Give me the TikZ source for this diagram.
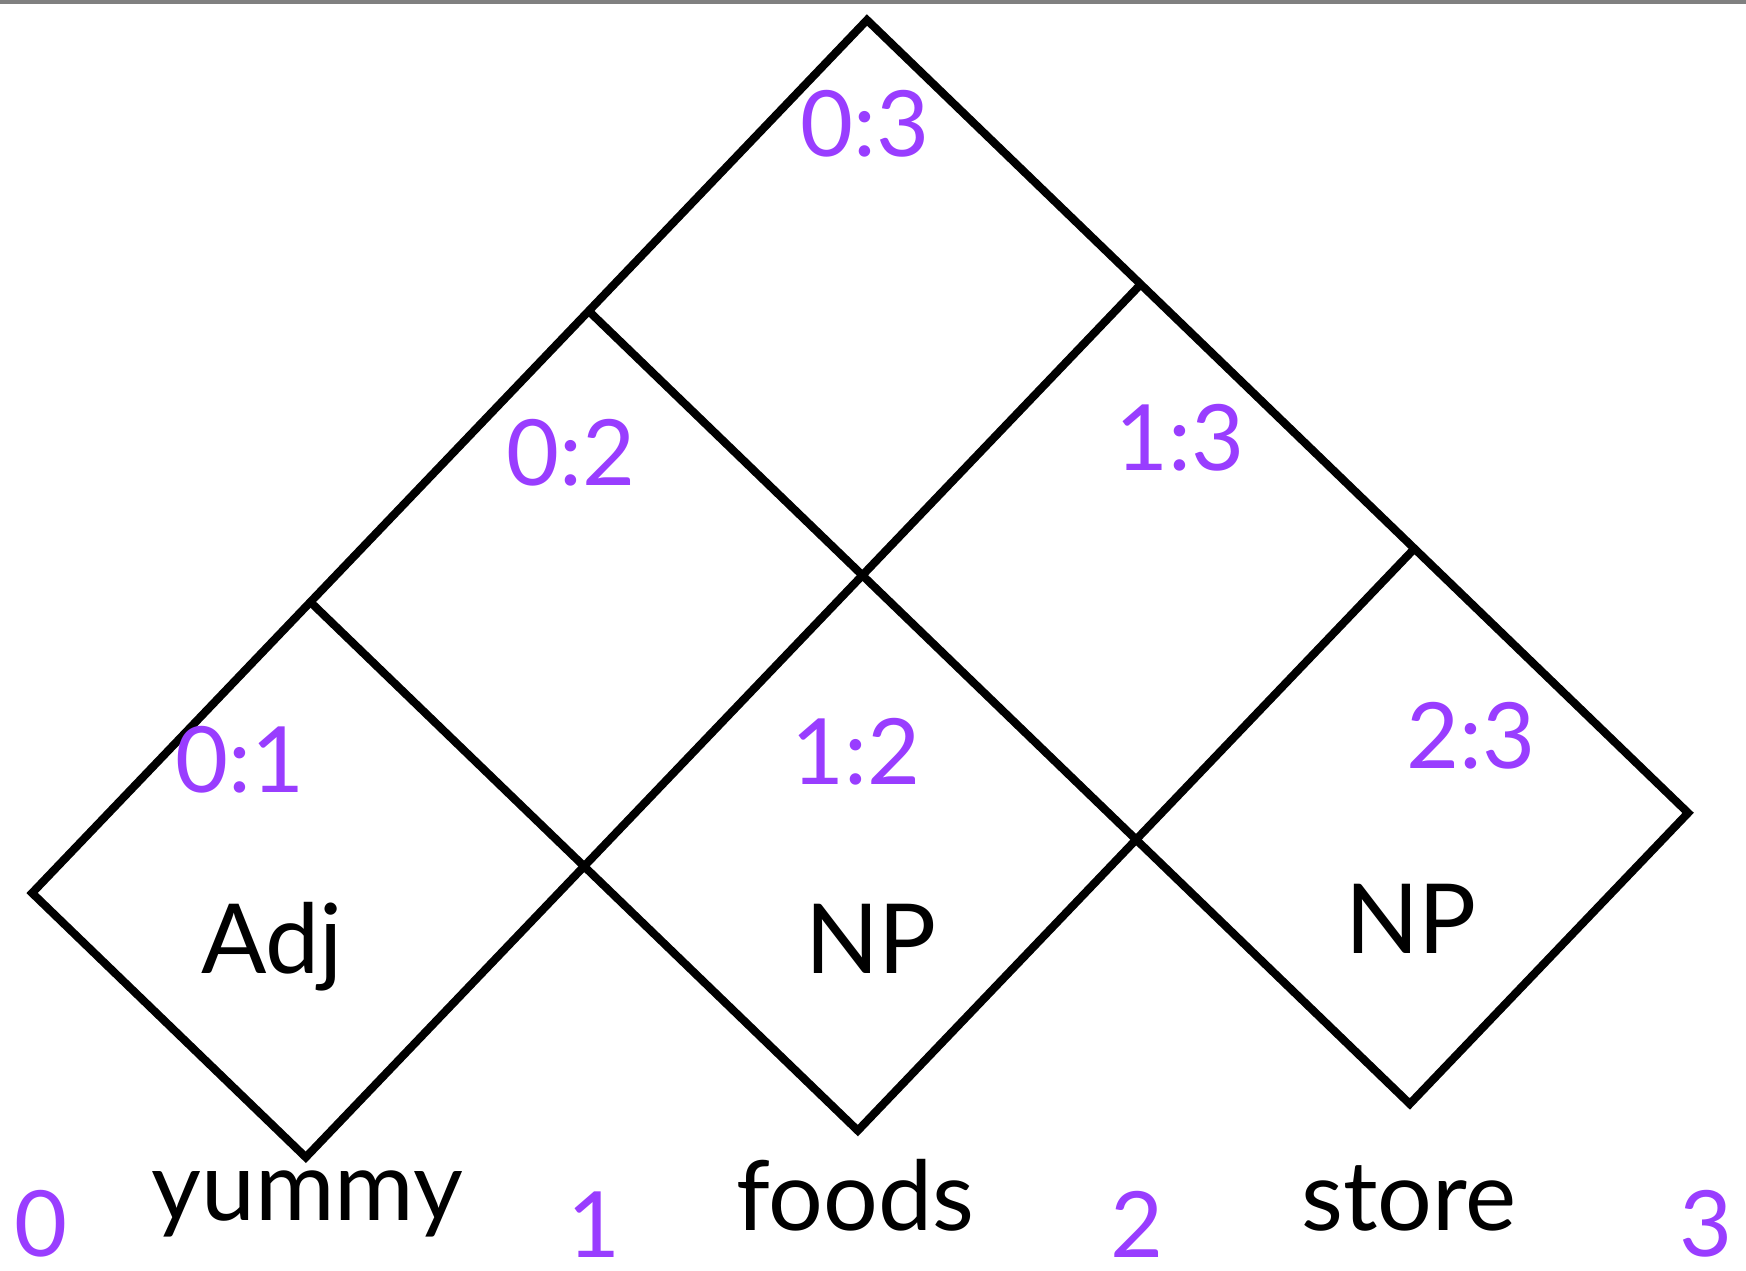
\documentclass[tikz,border=0pt]{standalone}
\usepackage{fontspec}
\setmainfont{Lato}
\definecolor{spanpurple}{HTML}{993DFF}

\begin{document}
\begin{tikzpicture}[x=0.01cm, y=-0.01cm]
  \tikzstyle{chartline} = [draw, line width=2.3pt, line join=miter]
  \tikzstyle{spanlabel} = [text=spanpurple, font=\fontsize{26}{30}\selectfont, anchor=base, inner sep=0pt]
  \tikzstyle{word} = [text=black, font=\fontsize{27.5}{32}\selectfont, anchor=base, inner sep=0pt]

  \useasboundingbox (0,0) rectangle (1746,1270);
  \draw[gray, line width=1.5pt] (0,1) -- (1746,1);

  % corner points of the chart
  \foreach \i in {0,...,3}
    \foreach \j in {0,...,3}
      \coordinate (p\i\j) at ({867+273.7*\i-278.3*\j}, {20+264.3*\i+291*\j});

  \draw[chartline] (p00) -- (p30) -- (p31) -- (p21) -- (p22) -- (p12) -- (p13) -- (p03) -- cycle;
  \draw[chartline] (p01) -- (p21);
  \draw[chartline] (p02) -- (p12);
  \draw[chartline] (p10) -- (p12);
  \draw[chartline] (p20) -- (p21);

  % spans
  \node[spanlabel] (s03) at (865,157) {0:3};
  \node[spanlabel] (s02) at (571,485) {0:2};
  \node[spanlabel] (s13) at (1180,470) {1:3};
  \node[spanlabel] (s01) at (240,792) {0:1};
  \node[spanlabel] (s12) at (856,784) {1:2};
  \node[spanlabel] (s23) at (1471,768) {2:3};

  \node[word] (adj) at (272,973) {Adj};
  \node[word] (np12) at (871,973) {NP};
  \node[word] (np23) at (1411,953) {NP};

  % sentence and positions
  \node[word] (yummy) at (307,1220) {yummy};
  \node[word] (foods) at (855,1230) {foods};
  \node[word] (store) at (1409,1230) {store};
  \node[spanlabel] (b0) at (41,1256) {0};
  \node[spanlabel] (b1) at (594,1257) {1};
  \node[spanlabel] (b2) at (1137,1257) {2};
  \node[spanlabel] (b3) at (1706,1256) {3};
\end{tikzpicture}
\end{document}
